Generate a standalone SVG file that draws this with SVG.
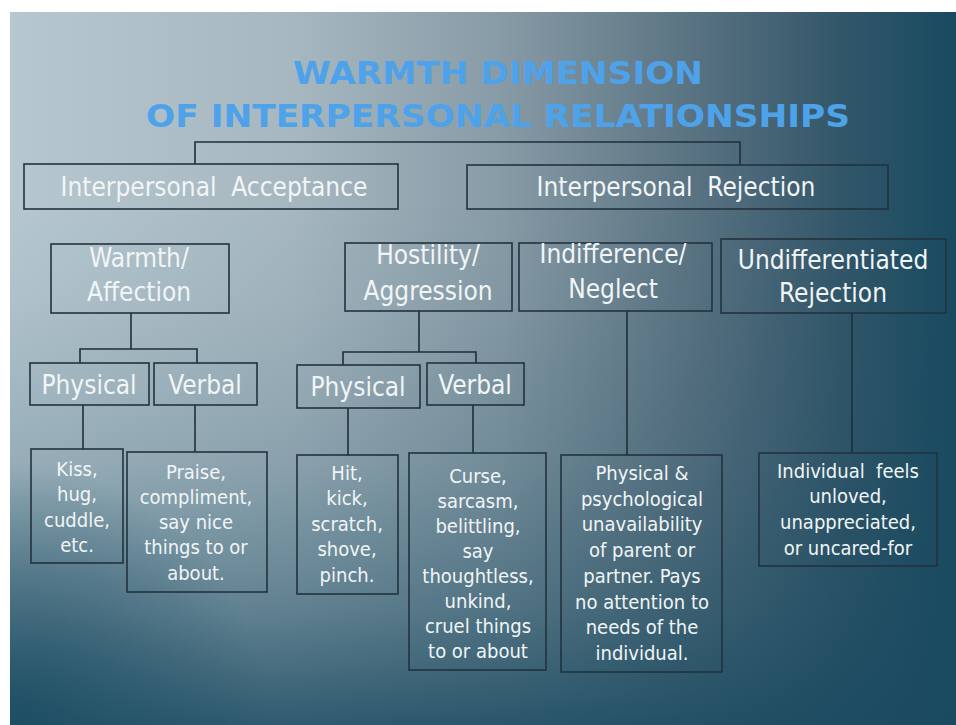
<svg xmlns="http://www.w3.org/2000/svg" width="956" height="725" viewBox="0 0 956 725">
<defs>
<linearGradient id="bgh" gradientUnits="userSpaceOnUse" x1="10" y1="0" x2="956" y2="0">
<stop offset="0" stop-color="#b6c7cf"/>
<stop offset="0.3" stop-color="#a6b7c0"/>
<stop offset="0.52" stop-color="#879ba6"/>
<stop offset="0.72" stop-color="#5a7382"/>
<stop offset="0.88" stop-color="#325669"/>
<stop offset="1" stop-color="#184a60"/>
</linearGradient>
<linearGradient id="bgv" gradientUnits="userSpaceOnUse" x1="0" y1="200" x2="0" y2="725">
<stop offset="0" stop-color="#1a4a60" stop-opacity="0"/>
<stop offset="0.2" stop-color="#1a4a60" stop-opacity="0.05"/>
<stop offset="0.5" stop-color="#1a4a60" stop-opacity="0.2"/>
<stop offset="0.78" stop-color="#1a4a60" stop-opacity="0.5"/>
<stop offset="1" stop-color="#1a4a60" stop-opacity="0.85"/>
</linearGradient>
<radialGradient id="bgc" gradientUnits="userSpaceOnUse" cx="10" cy="725" r="260">
<stop offset="0" stop-color="#184a60" stop-opacity="0.8"/>
<stop offset="1" stop-color="#184a60" stop-opacity="0"/>
</radialGradient>
</defs>
<style>
.box{fill:none;stroke:#22333e;stroke-width:1.6}
.ln{fill:none;stroke:#1f2f3a;stroke-width:1.6}
.t{font-family:"DejaVu Sans Condensed","DejaVu Sans",sans-serif;fill:#f1f5f6;text-anchor:middle;white-space:pre}
.l{font-size:26px}
.s{font-size:20px}
.title{font-family:"DejaVu Sans","Liberation Sans",sans-serif;font-weight:bold;font-size:32px;fill:#4ea2ea;text-anchor:middle}
</style>
<rect x="0" y="0" width="956" height="725" fill="#ffffff"/>
<rect x="10" y="12" width="946" height="713" fill="url(#bgh)"/>
<rect x="10" y="12" width="946" height="713" fill="url(#bgv)"/>
<rect x="10" y="12" width="946" height="713" fill="url(#bgc)"/>

<g id="title">
<text class="title" x="498" y="84" textLength="410" lengthAdjust="spacingAndGlyphs">WARMTH DIMENSION</text>
<text class="title" x="498" y="127" textLength="704" lengthAdjust="spacingAndGlyphs">OF INTERPERSONAL RELATIONSHIPS</text>
</g>

<g id="connectors">
<polyline class="ln" points="195,164 195,142 740,142 740,165"/>
<polyline class="ln" points="131,313 131,349"/>
<polyline class="ln" points="80,363 80,349 197,349 197,363"/>
<line class="ln" x1="83" y1="405" x2="83" y2="449"/>
<line class="ln" x1="195" y1="405" x2="195" y2="452"/>
<line class="ln" x1="419" y1="311" x2="419" y2="352"/>
<polyline class="ln" points="343,365 343,352 476,352 476,363"/>
<line class="ln" x1="348" y1="408" x2="348" y2="455"/>
<line class="ln" x1="473" y1="405" x2="473" y2="453"/>
<line class="ln" x1="627" y1="311" x2="627" y2="455"/>
<line class="ln" x1="852" y1="313" x2="852" y2="453"/>
</g>

<g id="acceptance">
<rect class="box" x="24" y="164" width="374" height="45"/>
<text class="t l" x="214" y="196">Interpersonal  Acceptance</text>
</g>
<g id="rejection">
<rect class="box" x="467" y="165" width="421" height="44"/>
<text class="t l" x="676" y="196">Interpersonal  Rejection</text>
</g>

<g id="warmth">
<rect class="box" x="51" y="244" width="178" height="69"/>
<text class="t l" x="139" y="267">Warmth/</text>
<text class="t l" x="139" y="301">Affection</text>
</g>
<g id="hostility">
<rect class="box" x="345" y="243" width="167" height="68"/>
<text class="t l" x="428" y="264">Hostility/</text>
<text class="t l" x="428" y="300">Aggression</text>
</g>
<g id="indifference">
<rect class="box" x="519" y="243" width="193" height="68"/>
<text class="t l" x="613" y="263">Indifference/</text>
<text class="t l" x="613" y="298">Neglect</text>
</g>
<g id="undifferentiated">
<rect class="box" x="721" y="239" width="225" height="74"/>
<text class="t l" x="833" y="269">Undifferentiated</text>
<text class="t l" x="833" y="302">Rejection</text>
</g>

<g id="physical-warmth">
<rect class="box" x="30" y="363" width="119" height="42"/>
<text class="t l" x="89" y="394">Physical</text>
</g>
<g id="verbal-warmth">
<rect class="box" x="154" y="363" width="103" height="42"/>
<text class="t l" x="205" y="394">Verbal</text>
</g>
<g id="physical-hostility">
<rect class="box" x="297" y="365" width="123" height="43"/>
<text class="t l" x="358" y="396">Physical</text>
</g>
<g id="verbal-hostility">
<rect class="box" x="427" y="363" width="97" height="42"/>
<text class="t l" x="475" y="394">Verbal</text>
</g>

<g id="kiss">
<rect class="box" x="31" y="449" width="92" height="114"/>
<text class="t s" x="77" y="476">Kiss,</text>
<text class="t s" x="77" y="501">hug,</text>
<text class="t s" x="77" y="527">cuddle,</text>
<text class="t s" x="77" y="552">etc.</text>
</g>
<g id="praise">
<rect class="box" x="127" y="452" width="140" height="140"/>
<text class="t s" x="196" y="479">Praise,</text>
<text class="t s" x="196" y="504">compliment,</text>
<text class="t s" x="196" y="529">say nice</text>
<text class="t s" x="196" y="554">things to or</text>
<text class="t s" x="196" y="580">about.</text>
</g>
<g id="hit">
<rect class="box" x="297" y="455" width="101" height="139"/>
<text class="t s" x="347" y="480">Hit,</text>
<text class="t s" x="347" y="505">kick,</text>
<text class="t s" x="347" y="531">scratch,</text>
<text class="t s" x="347" y="556">shove,</text>
<text class="t s" x="347" y="582">pinch.</text>
</g>
<g id="curse">
<rect class="box" x="409" y="453" width="137" height="217"/>
<text class="t s" x="478" y="483">Curse,</text>
<text class="t s" x="478" y="508">sarcasm,</text>
<text class="t s" x="478" y="533">belittling,</text>
<text class="t s" x="478" y="558">say</text>
<text class="t s" x="478" y="583">thoughtless,</text>
<text class="t s" x="478" y="608">unkind,</text>
<text class="t s" x="478" y="633">cruel things</text>
<text class="t s" x="478" y="658">to or about</text>
</g>
<g id="neglect-desc">
<rect class="box" x="561" y="455" width="161" height="217"/>
<text class="t s" x="642" y="480">Physical &amp;</text>
<text class="t s" x="642" y="506">psychological</text>
<text class="t s" x="642" y="531">unavailability</text>
<text class="t s" x="642" y="557">of parent or</text>
<text class="t s" x="642" y="583">partner. Pays</text>
<text class="t s" x="642" y="609">no attention to</text>
<text class="t s" x="642" y="634">needs of the</text>
<text class="t s" x="642" y="660">individual.</text>
</g>
<g id="individual">
<rect class="box" x="759" y="453" width="178" height="113"/>
<text class="t s" x="848" y="478">Individual  feels</text>
<text class="t s" x="848" y="503">unloved,</text>
<text class="t s" x="848" y="529">unappreciated,</text>
<text class="t s" x="848" y="555">or uncared-for</text>
</g>
</svg>
